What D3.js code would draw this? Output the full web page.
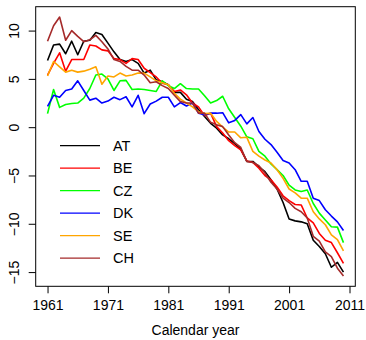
<!DOCTYPE html>
<html>
<head>
<meta charset="utf-8">
<script src="https://cdn.jsdelivr.net/npm/d3@7"></script>
<style>
  body { margin: 0; background: #fff; }
  text { font-family: "Liberation Sans", Arial, sans-serif; }
</style>
</head>
<body>
<div id="chart"></div>
<script>
// data, 1961 - 2010
var years = d3.range(1961, 2011)
var countries = ['AT', 'BE', 'CZ', 'DK', 'SE', 'CH']
var colors = ['#000000', '#ff0000', '#00ff00', '#0000ff', '#ffa500', '#a52a2a']

var valAT = [6.9, 8.5, 8.6, 7.6, 8.9, 7.5, 8.9, 9.0, 9.8, 9.6,
  8.7, 7.8, 7.0, 6.8, 7.0, 6.6, 5.6, 5.9, 4.9, 4.7,
  4.4, 3.6, 3.6, 2.9, 2.65, 1.8, 1.1, 0.4, -0.1, -0.8,
  -1.2, -1.7, -2.3, -3.55, -3.55, -4.1, -4.6, -5.45, -6.4, -7.8,
  -9.5, -9.7, -9.8, -10.0, -11.7, -12.35, -13.1, -14.5, -14.0, -15.0]
var valBE = [5.4, 6.6, 7.7, 5.8, 7.0, 7.0, 7.0, 8.5, 8.4, 8.0,
  7.9, 7.1, 7.0, 6.6, 7.1, 7.0, 6.1, 5.65, 5.2, 4.55,
  4.4, 3.7, 3.85, 3.35, 2.5, 2.1, 1.2, 1.45, 0.06, -0.6,
  -1.4, -1.9, -2.35, -3.5, -3.65, -4.25, -5.0, -5.45, -6.2, -7.1,
  -7.6, -8.0, -8.05, -9.4, -9.9, -11.0, -11.7, -11.95, -13.0, -14.1]
var valCZ = [1.4, 3.9, 2.05, 2.35, 2.45, 2.5, 3.0, 4.0, 5.4, 5.5,
  5.0, 3.8, 4.8, 4.85, 3.9, 3.95, 3.9, 3.8, 3.7, 4.8,
  4.3, 4.0, 4.5, 4.0, 3.95, 3.95, 3.25, 2.5, 2.75, 3.2,
  1.9, 1.0, 0.1, -1.0, -1.2, -2.5, -3.0, -3.8, -4.4, -5.0,
  -6.0, -6.5, -6.65, -6.5, -7.9, -8.9, -9.6, -10.3, -10.35, -11.95]
var valDK = [2.15, 3.3, 3.1, 3.8, 3.95, 4.8, 3.8, 2.8, 3.0, 2.5,
  2.7, 3.1, 2.85, 3.15, 2.1, 3.3, 1.4, 2.4, 2.7, 3.1,
  3.1, 2.1, 2.55, 2.2, 2.5, 1.45, 1.3, 1.45, 1.45, 1.5,
  0.45, 0.7, 1.3, 0.34, 1.0, -0.45, -1.25, -1.8, -2.6, -3.45,
  -3.7, -4.4, -5.6, -5.6, -7.35, -7.6, -8.55, -9.2, -9.8, -10.7]
var valSE = [5.3, 6.8, 6.25, 5.7, 5.9, 5.7, 5.8, 6.0, 6.25, 4.45,
  5.3, 5.2, 5.6, 5.3, 5.4, 5.6, 5.6, 5.2, 4.8, 4.6,
  4.4, 3.5, 2.9, 2.5, 2.1, 1.6, 1.4, 1.45, 0.6, 0.0,
  -0.5, -0.5, -1.1, -1.05, -2.5, -3.0, -3.4, -3.7, -4.4, -5.3,
  -6.4, -6.8, -7.35, -7.35, -8.75, -9.5, -10.1, -11.15, -11.65, -12.8]
var valCH = [8.9, 10.5, 11.4, 9.0, 10.0, 9.4, 8.85, 9.05, 9.5, 8.85,
  8.1, 7.0, 6.8, 6.3, 5.9, 5.9, 5.4, 4.6, 4.7, 4.3,
  4.0, 3.3, 2.65, 2.5, 2.5, 1.45, 1.45, 0.5, 0.24, 0.06,
  -0.8, -1.6, -2.1, -3.55, -3.65, -4.0, -4.75, -5.7, -6.4, -7.35,
  -7.8, -8.4, -8.75, -9.4, -11.3, -11.8, -12.9, -13.4, -14.6, -15.4]

var xTicks = [1961, 1971, 1981, 1991, 2001, 2011]
var yTicks = [-15, -10, -5, 0, 5, 10]
var xTitle = 'Calendar year'

var seriesVals = [valAT, valBE, valCZ, valDK, valSE, valCH]

// plot region, same as R's default device layout
var width = 366
var height = 340
var box = { left: 35.7, right: 355.3, top: 6.7, bottom: 286.3 }

var svg = d3.select('#chart').append('svg')
  .attr('width', width)
  .attr('height', height)

// R style axis ranges, 4% extra on each side
var xExt = d3.extent(years)
var xPad = (xExt[1] - xExt[0]) * 0.04
var allVals = d3.merge(seriesVals)
var yExt = d3.extent(allVals)
var yPad = (yExt[1] - yExt[0]) * 0.04

var xScale = d3.scaleLinear()
  .domain([xExt[0] - xPad, xExt[1] + xPad])
  .range([box.left, box.right])

var yScale = d3.scaleLinear()
  .domain([yExt[0] - yPad, yExt[1] + yPad])
  .range([box.bottom, box.top])

var line = d3.line()
  .x(function(d, i) { return xScale(years[i]) })
  .y(function(d) { return yScale(d) })

// series
svg.append('g')
  .selectAll('path')
  .data(seriesVals)
  .enter().append('path')
  .attr('d', line)
  .attr('fill', 'none')
  .attr('stroke', function(d, i) { return colors[i] })
  .attr('stroke-width', 1.6)
  .attr('stroke-linejoin', 'round')

// x axis
var xAxis = d3.axisBottom(xScale)
  .tickValues(xTicks)
  .tickFormat(d3.format('d'))
  .tickSize(7)
  .tickPadding(7)

var gx = svg.append('g')
  .attr('transform', 'translate(0,' + box.bottom + ')')
  .call(xAxis)
gx.select('.domain').remove()
gx.selectAll('line').attr('stroke', '#000')
gx.selectAll('text')
  .attr('fill', '#000')
  .style('font-size', '14px')

// y axis, labels turned like R's las=0
var yAxis = d3.axisLeft(yScale)
  .tickValues(yTicks)
  .tickSize(7)

var gy = svg.append('g')
  .attr('transform', 'translate(' + box.left + ',0)')
  .call(yAxis)
gy.select('.domain').remove()
gy.selectAll('line').attr('stroke', '#000')
gy.selectAll('text')
  .attr('x', null)
  .attr('dy', '0.35em')
  .attr('transform', 'translate(-21.7,0) rotate(-90)')
  .attr('text-anchor', 'middle')
  .attr('fill', '#000')
  .style('font-size', '14px')

// frame
svg.append('rect')
  .attr('x', box.left)
  .attr('y', box.top)
  .attr('width', box.right - box.left)
  .attr('height', box.bottom - box.top)
  .attr('fill', 'none')
  .attr('stroke', '#000')
  .attr('stroke-width', 1)

svg.append('text')
  .attr('x', (box.left + box.right) / 2)
  .attr('y', 335)
  .attr('text-anchor', 'middle')
  .style('font-size', '14px')
  .text(xTitle)

// legend
var legend = svg.append('g')
  .selectAll('g')
  .data(countries)
  .enter().append('g')
  .attr('transform', function(d, i) { return 'translate(0,' + (145.7 + i * 22.5) + ')' })

legend.append('line')
  .attr('x1', 60)
  .attr('x2', 100)
  .attr('stroke', function(d, i) { return colors[i] })
  .attr('stroke-width', 1.2)

legend.append('text')
  .attr('x', 113)
  .attr('dy', '0.36em')
  .style('font-size', '14.5px')
  .text(function(d) { return d })
</script>
</body>
</html>
